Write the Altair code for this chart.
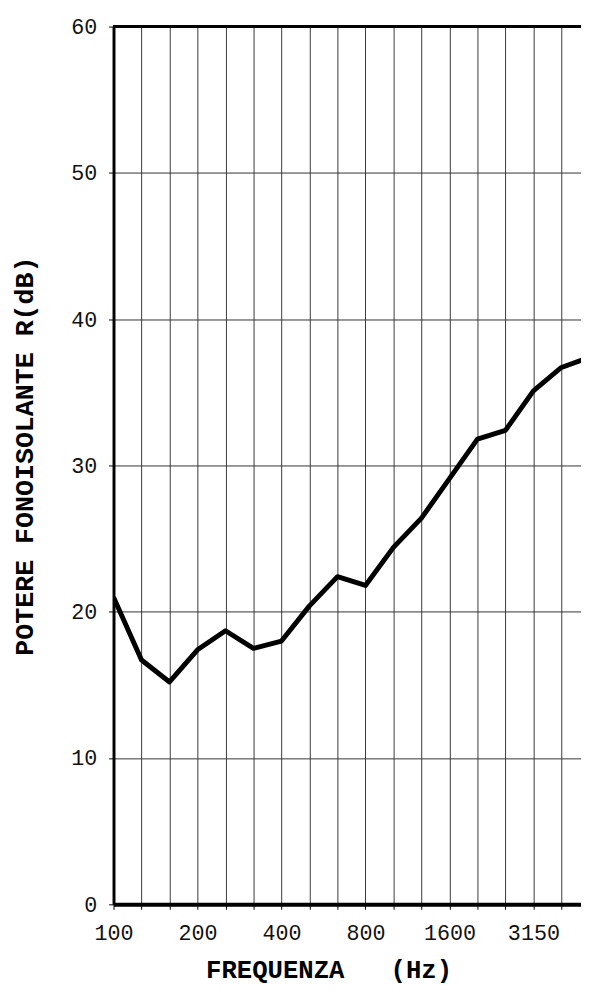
import altair as alt
import pandas as pd

# One-third-octave band centre frequencies (Hz)
freqs = ["100", "125", "160", "200", "250", "315", "400", "500", "630",
         "800", "1000", "1250", "1600", "2000", "2500", "3150", "4000", "5000"]
# Sound reduction index R (dB)
r_db = [21.0, 16.7, 15.2, 17.4, 18.7, 17.5, 18.0, 20.4, 22.4,
        21.8, 24.4, 26.4, 29.1, 31.8, 32.4, 35.1, 36.7, 37.4]
# Tick labels shown on the frequency axis
shown_labels = ["100", "200", "400", "800", "1600", "3150"]
y_major = [0, 10, 20, 30, 40, 50, 60]

df = pd.DataFrame({"idx": list(range(len(freqs))), "freq": freqs, "R": r_db})

label_arr = "[" + ",".join(
    "'" + (f if f in shown_labels else "") + "'" for f in freqs) + "]"

FONT = "Courier New, Liberation Mono, monospace"

x_enc = alt.X(
    "idx:Q",
    scale=alt.Scale(domain=[0, 16.7], nice=False, zero=False),
    axis=alt.Axis(
        values=list(range(17)),
        labelExpr=label_arr + "[datum.value]",
        grid=True, gridColor="#3a3a3a", gridWidth=1,
        domainColor="black", domainWidth=4,
        tickColor="black", tickSize=5, tickWidth=1,
        labelFont=FONT, labelFontSize=22, labelColor="#111",
        labelPadding=14, labelFlush=False, labelOverlap=False,
        title="FREQUENZA\u00a0\u00a0\u00a0(Hz)",
        titleFont=FONT, titleFontSize=26, titleFontWeight="bold",
        titleColor="black", titleX=218, titleY=66,
        titleAlign="center", titleBaseline="middle",
    ),
)

y_enc = alt.Y(
    "R:Q",
    scale=alt.Scale(domain=[0, 60], nice=False),
    axis=alt.Axis(
        values=y_major,
        grid=True, gridColor="#333333", gridWidth=1,
        domainColor="black", domainWidth=3,
        tickColor="black", tickSize=5, tickWidth=1,
        labelFont=FONT, labelFontSize=22, labelColor="#111",
        labelPadding=12, labelOverlap=False,
        title="POTERE FONOISOLANTE R(dB)",
        titleFont=FONT, titleFontSize=27, titleFontWeight="bold",
        titleColor="black", titleX=-90, titleY=435,
        titleAlign="center", titleBaseline="middle", titleAngle=270,
    ),
)

line = alt.Chart(df).mark_line(
    color="black", strokeWidth=5, clip=True, strokeJoin="round"
).encode(x=x_enc, y=y_enc)

top = alt.Chart(df).mark_rule(color="black", strokeWidth=3).encode(
    y=alt.datum(60)
)

chart = alt.layer(line, top).properties(
    width=474,
    height=890,
    autosize=alt.AutoSizeParams(type="none"),
    padding={"left": 107, "top": 12, "right": 0, "bottom": 80},
    background="white",
).configure_view(stroke=None)

chart.save("out.html", embed_options={"renderer": "svg", "actions": False})
